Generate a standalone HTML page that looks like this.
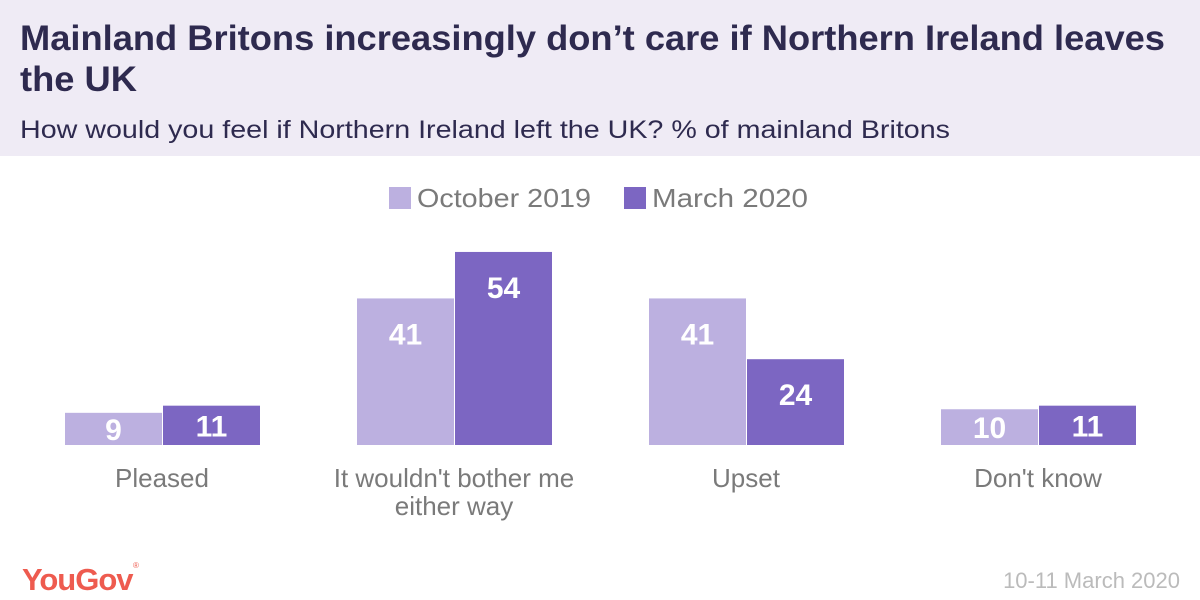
<!DOCTYPE html>
<html><head><meta charset="utf-8"><style>
html,body{margin:0;padding:0;background:#fff;}
svg{display:block;font-family:"Liberation Sans",sans-serif;}
</style></head><body>
<svg id="chart" width="1200" height="600" viewBox="0 0 1200 600">
<rect x="0" y="0" width="1200" height="156" fill="#efebf5"/>
<text x="20" y="50" font-size="35" font-weight="bold" fill="#2e2a4f" textLength="1145" lengthAdjust="spacingAndGlyphs">Mainland Britons increasingly don’t care if Northern Ireland leaves</text>
<text x="20" y="91" font-size="35" font-weight="bold" fill="#2e2a4f" textLength="117" lengthAdjust="spacingAndGlyphs">the UK</text>
<text x="20" y="138" font-size="25" fill="#2e2a4f" textLength="930" lengthAdjust="spacingAndGlyphs">How would you feel if Northern Ireland left the UK? % of mainland Britons</text>
<g>
<rect x="389" y="187" width="22" height="22" fill="#bcb0e0"/>
<text x="417" y="207" font-size="26" fill="#7a7a7a" textLength="174" lengthAdjust="spacingAndGlyphs">October 2019</text>
<rect x="624" y="187" width="22" height="22" fill="#7c66c2"/>
<text x="652" y="207" font-size="26" fill="#7a7a7a" textLength="156" lengthAdjust="spacingAndGlyphs">March 2020</text>
</g>
<g id="bars"></g>
<text x="22" y="590" font-size="31" font-weight="bold" fill="#ee5b4f" letter-spacing="-1">YouGov</text>
<text x="133" y="568" font-size="8" fill="#ee5b4f">®</text>
<text x="1180" y="588" font-size="22" fill="#bbbbbb" text-anchor="end">10-11 March 2020</text>
</svg>
<script>
const categories = [["Pleased"], ["It wouldn't bother me", "either way"], ["Upset"], ["Don't know"]];
const oct2019 = [9, 41, 41, 10];
const mar2020 = [11, 54, 24, 11];
const seriesNames = ["october-2019", "march-2020"];
const colors = ["#bcb0e0", "#7c66c2"];
const NS = "http://www.w3.org/2000/svg";
const baseY = 445, pxPer = 3.575, groupStart = 162, groupStep = 292, barW = 97;
const y = v => baseY - v * pxPer;
const xc = i => groupStart + i * groupStep;
const g = document.getElementById("bars");
function mk(tag, attrs) { const e = document.createElementNS(NS, tag); for (const k in attrs) e.setAttribute(k, attrs[k]); g.appendChild(e); return e; }
[oct2019, mar2020].forEach((series, s) => {
  series.forEach((v, i) => {
    const x = s === 0 ? xc(i) - barW : xc(i) + 1;
    const r = mk("rect", { x: x, y: y(v), width: barW, height: baseY - y(v), fill: colors[s] });
    
    
    const ty = Math.min(y(v) + 46, (y(v) + baseY) / 2 + 11);
    const t = mk("text", { x: x + barW / 2, y: ty, "font-size": 30, "font-weight": "bold", fill: "#fff", "text-anchor": "middle" });
    t.textContent = v;
    
    
  });
});
categories.forEach((lines, i) => {
  lines.forEach((ln, j) => {
    const t = mk("text", { x: xc(i), y: 487 + j * 28, "font-size": 26, fill: "#7a7a7a", "text-anchor": "middle" });
    t.textContent = ln;
    
    
  });
});
</script>
</body></html>
